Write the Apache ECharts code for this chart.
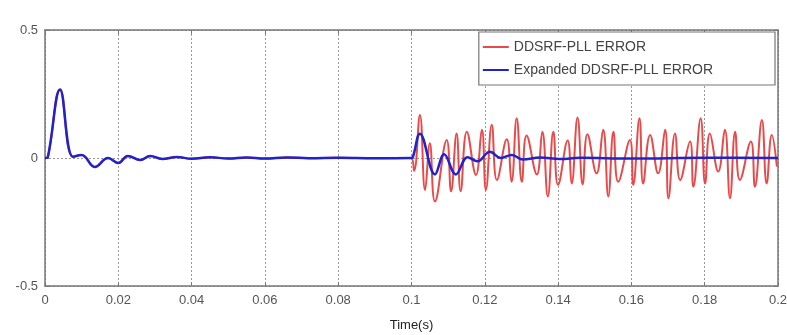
<!DOCTYPE html>
<html>
<head>
<meta charset="utf-8">
<script src="https://cdn.jsdelivr.net/npm/echarts@6/dist/echarts.min.js"></script>
<style>
  html, body { margin: 0; padding: 0; background: #fff; }
  #chart { width: 787px; height: 335px; }
</style>
</head>
<body>
<div id="chart"></div>
<script>
// blue: expanded DDSRF-PLL error
const blueTime = [0, 0.0008, 0.0041, 0.0076, 0.0100, 0.0136, 0.0172, 0.0200, 0.0226, 0.0260, 0.0287,
  0.032, 0.036, 0.040, 0.045, 0.050, 0.055, 0.060, 0.066, 0.072, 0.080, 0.090, 0.0999,
  0.1004, 0.1023, 0.1064, 0.1089, 0.1121, 0.1153, 0.1180, 0.1214, 0.1244, 0.1274, 0.1304,
  0.1351, 0.1405, 0.146, 0.16, 0.18, 0.2]
const blueValue = [0, 0.005, 0.268, 0.005, 0.012, -0.035, 0, -0.02, 0.008, -0.008, 0.008,
  -0.004, 0.004, -0.003, 0.003, -0.002, 0.002, -0.002, 0.002, -0.001, 0.001, -0.001, 0,
  0.005, 0.095, -0.064, 0.015, -0.064, 0.003, -0.013, 0.024, 0, 0.012, -0.006,
  0.002, -0.004, 0.001, -0.002, 0.001, 0]

// red: DDSRF-PLL error after the disturbance at t = 0.1 s
const redTime = [0.0999, 0.1007, 0.1023, 0.1037, 0.1050, 0.1064, 0.1096, 0.1108, 0.1123, 0.1134,
  0.1151, 0.1176, 0.1192, 0.1203, 0.1219, 0.1233, 0.1260, 0.1273, 0.1287, 0.1301,
  0.1314, 0.1342, 0.1357, 0.1372, 0.1387, 0.1400, 0.1426, 0.1437, 0.1453, 0.1467,
  0.1480, 0.1505, 0.1523, 0.1537, 0.1551, 0.1564, 0.1596, 0.1605, 0.1622, 0.1632,
  0.1651, 0.1673, 0.1692, 0.1701, 0.1719, 0.1733, 0.1760, 0.1769, 0.1789, 0.1801,
  0.1814, 0.1837, 0.1855, 0.1869, 0.1883, 0.1896, 0.1926, 0.1937, 0.1956, 0.1969,
  0.1983, 0.1997]
const redValue = [0, -0.05, 0.168, -0.125, 0.058, -0.17, 0.07, -0.13, 0.096, -0.13,
  0.103, -0.066, 0.11, -0.125, 0.13, -0.086, 0.073, -0.093, 0.155, -0.093,
  0.088, -0.064, 0.103, -0.15, 0.103, -0.105, 0.068, -0.1, 0.158, -0.103,
  0.093, -0.06, 0.11, -0.15, 0.103, -0.093, 0.07, -0.105, 0.155, -0.1,
  0.09, -0.06, 0.11, -0.157, 0.096, -0.086, 0.064, -0.112, 0.155, -0.1,
  0.096, -0.053, 0.11, -0.157, 0.103, -0.086, 0.064, -0.112, 0.148, -0.1,
  0.09, -0.034]

const xTicks = { min: 0, max: 0.2, interval: 0.02 }
const yTicks = { min: -0.5, max: 0.5, interval: 0.5 }

const bluePts = blueTime.map((t, i) => [t, blueValue[i]])
const redPts = bluePts.filter(p => p[0] < 0.0999).concat(redTime.map((t, i) => [t, redValue[i]]))

const axisGray = '#777'
const labelGray = '#555'
const font = 'Liberation Sans, Arial'

function frameAxis(extra) {
  return Object.assign({
    type: 'value',
    axisLine: { show: true, onZero: false, lineStyle: { color: axisGray, width: 1.5 } },
    axisTick: { show: true, inside: true, length: 4, lineStyle: { color: axisGray } },
    axisLabel: { show: false },
    splitLine: { show: false }
  }, extra)
}

const chart = echarts.init(document.getElementById('chart'))
chart.setOption({
  animation: false,
  backgroundColor: '#fff',
  grid: { left: 45, right: 9, top: 30, bottom: 49, outerBoundsMode: 'none' },
  legend: {
    right: 12,
    top: 32,
    orient: 'vertical',
    icon: 'rect',
    itemWidth: 26,
    itemHeight: 2,
    itemGap: 7,
    padding: [7, 62, 7, 4],
    backgroundColor: '#fff',
    borderColor: axisGray,
    borderWidth: 1.2,
    textStyle: { fontFamily: font, fontSize: 14, color: '#444', lineHeight: 16 },
    data: ['DDSRF-PLL ERROR', 'Expanded DDSRF-PLL ERROR']
  },
  xAxis: [
    frameAxis({
      ...xTicks,
      name: 'Time(s)',
      nameLocation: 'middle',
      nameGap: 33,
      nameTextStyle: { fontFamily: font, fontSize: 13, color: '#222' },
      axisLabel: { show: true, fontFamily: font, fontSize: 13, color: labelGray, margin: 8 },
      splitLine: { show: true, lineStyle: { color: '#999', type: [2, 2], width: 1 } }
    }),
    frameAxis({ position: 'top', ...xTicks })
  ],
  yAxis: [
    frameAxis({
      ...yTicks,
      axisLabel: { show: true, fontFamily: font, fontSize: 13, color: labelGray, margin: 7 },
      splitLine: { show: true, lineStyle: { color: '#999', type: [2, 2], width: 1 } }
    }),
    frameAxis({ position: 'right', ...yTicks })
  ],
  series: [
    {
      name: 'DDSRF-PLL ERROR',
      type: 'line',
      data: redPts,
      smooth: 0.45,
      symbol: 'none',
      color: '#e84a4a',
      lineStyle: { color: '#e84a4a', width: 2 }
    },
    {
      name: 'Expanded DDSRF-PLL ERROR',
      type: 'line',
      data: bluePts,
      smooth: 0.4,
      symbol: 'none',
      color: '#2222cc',
      lineStyle: { color: '#2222cc', width: 2.5 }
    }
  ]
})
</script>
</body>
</html>
